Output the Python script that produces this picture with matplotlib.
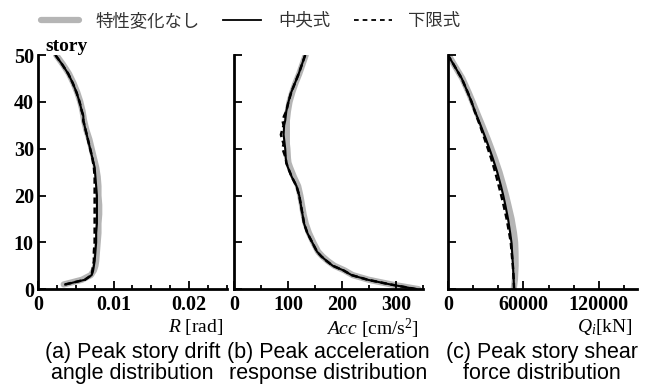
import numpy as np
import matplotlib.pyplot as plt
from matplotlib.lines import Line2D

plt.rcParams['font.family'] = ['Liberation Serif', 'DejaVu Sans']
plt.rcParams['mathtext.fontset'] = 'custom'
plt.rcParams['mathtext.rm'] = 'Liberation Serif'
plt.rcParams['mathtext.it'] = 'Liberation Serif:italic'

# (a) peak story drift angle, stories 1..50
story_a = [1, 2, 3, 4, 5, 6, 8, 10, 12, 14, 16, 18, 20, 22, 24, 26, 28, 30,
           32, 34, 36, 37, 38, 40, 42, 44, 46, 48, 50]
drift_none = [0.0034, 0.0058, 0.0070, 0.0074, 0.0076, 0.0077, 0.0078, 0.0079, 0.0080, 0.0080,
              0.0081, 0.0081, 0.0080, 0.0080, 0.0079, 0.0077, 0.0074, 0.0071, 0.0068, 0.0064,
              0.0061, 0.0060, 0.0059, 0.0056, 0.0052, 0.0047, 0.0041, 0.0033, 0.0024]
drift_mid = [0.0036, 0.0062, 0.0071, 0.0073, 0.0074, 0.0075, 0.0076, 0.0077, 0.0077, 0.0078,
             0.0078, 0.0078, 0.0078, 0.0077, 0.0076, 0.0075, 0.0072, 0.0069, 0.0066, 0.0063,
             0.0060, 0.0060, 0.0058, 0.0055, 0.0051, 0.0046, 0.0040, 0.0032, 0.0023]
drift_low = [0.0036, 0.0062, 0.0071, 0.0072, 0.0073, 0.0074, 0.0074, 0.0075, 0.0075, 0.0075,
             0.0075, 0.0075, 0.0075, 0.0075, 0.0075, 0.0074, 0.0072, 0.0069, 0.0066, 0.0063,
             0.0060, 0.0060, 0.0058, 0.0055, 0.0051, 0.0046, 0.0040, 0.0032, 0.0023]

# (b) peak acceleration, floors 0..50
story_b = [0, 1, 2, 3, 4, 5, 6, 7, 8, 10, 12, 14, 16, 18, 20, 22, 24, 26, 27, 28,
           30, 31, 33, 35, 36, 37, 38, 40, 42, 44, 46, 48, 50]
acc_none = [342, 292, 250, 220, 205, 186, 174, 164, 156, 147, 139, 133, 129, 126, 123, 119, 111, 104, 101, 100,
            99, 98, 98, 98, 98, 99, 100, 103, 108, 114, 121, 127, 133]
acc_mid = [338, 290, 248, 218, 203, 183, 172, 162, 154, 145, 136, 130, 127, 124, 121, 116, 107, 100, 97, 96,
           95, 94, 92, 93, 95, 96, 97, 101, 106, 113, 120, 126, 132]
acc_low = [338, 290, 248, 218, 203, 183, 172, 162, 154, 145, 136, 130, 127, 124, 121, 116, 107, 100, 97, 96,
           90, 92, 87, 92, 90, 93, 97, 101, 106, 113, 120, 126, 132]

# (c) peak story shear, floors 0..50
story_c = [0, 2, 5, 8, 10, 12, 15, 18, 20, 22, 25, 28, 30, 32, 35, 38, 40, 42, 45, 48, 50]
shear_none = [52300, 53200, 53800, 53700, 53400, 52500, 50600, 48000, 46200, 44200, 41000, 37200,
              34500, 31700, 27200, 22600, 19600, 16500, 11500, 4800, 500]
shear_mid = [52600, 52300, 51700, 51000, 50500, 49500, 47800, 45600, 44000, 42200, 39200, 35600,
             33000, 30300, 26000, 21500, 18800, 15800, 11000, 4500, 0]
shear_low = [52600, 52300, 51600, 50600, 50000, 48700, 46700, 44200, 42400, 40500, 37600, 34300,
             31800, 29300, 25500, 21300, 18800, 15800, 11000, 4500, 0]

gray = '#b5b5b5'

fig = plt.figure(figsize=(6.51, 3.85), dpi=100)
w, h = 0.29, 0.608
bottom = 0.249
lefts = [0.0584, 0.3594, 0.688]
axes = [fig.add_axes([l, bottom, w, h]) for l in lefts]

datasets = [
    (story_a, drift_none, drift_mid, drift_low),
    (story_b, acc_none, acc_mid, acc_low),
    (story_c, shear_none, shear_mid, shear_low),
]
for ax, (s, g, m, lo) in zip(axes, datasets):
    ax.plot(g, s, color=gray, lw=4.5, solid_capstyle='round', zorder=1)
    ax.plot(lo, s, color='black', lw=1.8, ls=(0, (2.5, 1.5)), zorder=2)
    ax.plot(m, s, color='black', lw=1.5, zorder=3)
    ax.set_ylim(0, 50)
    ax.spines['top'].set_visible(False)
    ax.spines['right'].set_visible(False)
    for sp in ['left', 'bottom']:
        ax.spines[sp].set_linewidth(2)
    ax.tick_params(direction='in', which='major', length=5.5, width=1.3, labelsize=14.5, pad=4)
    ax.tick_params(direction='in', which='minor', length=3, width=1.3)
    ax.set_yticks(np.arange(0, 51, 10))
    ax.tick_params(axis='y', pad=3)

# panel a
axes[0].set_xlim(0, 0.025)
axes[0].set_xticks([0, 0.01, 0.02])
axes[0].set_xticklabels(['0', '0.01', '0.02'], fontweight='bold')
axes[0].set_xticks(np.arange(0, 0.0251, 0.0025), minor=True)
axes[0].set_yticklabels([str(v) for v in range(0, 51, 10)], fontweight='bold')
axes[0].text(0.04, 1.0, 'story', transform=axes[0].transAxes, fontsize=14,
             ha='left', va='bottom', fontweight='bold')

# panel b
axes[1].set_xlim(0, 350)
axes[1].set_xticks([0, 100, 200, 300])
axes[1].set_xticklabels(['0', '100', '200', '300'], fontweight='bold')
axes[1].set_xticks(np.arange(0, 351, 50), minor=True)
axes[1].tick_params(labelleft=False)

# panel c
axes[2].set_xlim(0, 150000)
axes[2].set_xticks([0, 60000, 120000])
axes[2].set_xticklabels(['0', '60000', '120000'], fontweight='bold')
axes[2].set_xticks(np.arange(0, 150001, 20000), minor=True)
axes[2].tick_params(labelleft=False)

xlabels = ['$R$ [rad]', r'$Acc$ [cm/s$^2$]', '$Q_i$[kN]']
for ax, lab in zip(axes, xlabels):
    ax.text(0.98, -0.117, lab, transform=ax.transAxes, ha='right', va='top', fontsize=14)

captions = ['(a) Peak story drift\nangle distribution',
            '(b) Peak acceleration\nresponse distribution',
            '(c) Peak story shear\nforce distribution']
for l, cap in zip(lefts, captions):
    fig.text(l + w / 2, 0.111, cap, ha='center', va='top', fontsize=15.5,
             family='Liberation Sans', linespacing=1.0)

handles = [Line2D([], [], color=gray, lw=4.5, solid_capstyle='round'),
           Line2D([], [], color='black', lw=1.3),
           Line2D([], [], color='black', lw=1.3, ls=(0, (2.6, 2.2)))]
fig.legend(handles, ['特性変化なし', '中央式', '下限式'], ncol=3, frameon=False,
           loc='upper center', bbox_to_anchor=(0.385, 1.01),
           prop={'family': 'Noto Sans CJK JP', 'size': 12.5}, labelcolor='#333333',
           handlelength=2.2, handletextpad=0.95, columnspacing=1.35)

fig.savefig('out.png', dpi=100)
